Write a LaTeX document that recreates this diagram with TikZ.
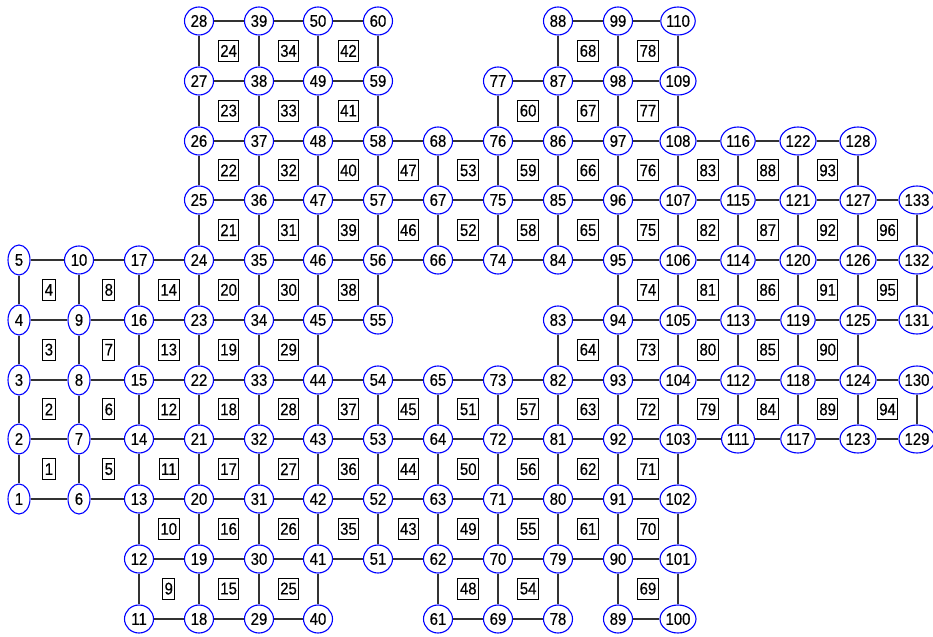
\documentclass[tikz,border=0pt]{standalone}
\usepackage{fontspec}
\setmainfont{Liberation Sans}[FakeStretch=0.88,FakeBold=0.4]
\usetikzlibrary{shapes.geometric}
\begin{document}
\begin{tikzpicture}[x=1bp,y=-1bp,
  every node/.style={font=\fontsize{17}{19}\selectfont},
  nd/.style={ellipse,draw=blue,fill=white,line width=1.1bp,inner xsep=0.3pt,inner ysep=1pt,minimum width=29bp,minimum height=28bp},
  ndone/.style={nd,minimum width=22bp,minimum height=30bp},
  elbox/.style={rectangle,draw=black,line width=1bp,inner xsep=2pt,inner ysep=0pt,minimum height=21bp},
  edge/.style={draw=black!80,line width=2bp}]
\fill[white] (0,0) rectangle (933,637);
\useasboundingbox (0,0) rectangle (933,637);
% nodes with one digit
\foreach \n/\c/\r in {1/0/8,2/0/7,3/0/6,4/0/5,5/0/4,6/1/8,7/1/7,8/1/6,9/1/5}
  \node[ndone] (n\n) at ({round(19+59.9*\c)},{round(21+59.75*\r)}) {\n};
% other nodes
\foreach \n/\c/\r in {10/1/4,11/2/10,12/2/9,13/2/8,14/2/7,15/2/6,16/2/5,17/2/4,
  18/3/10,19/3/9,20/3/8,21/3/7,22/3/6,23/3/5,24/3/4,25/3/3,26/3/2,27/3/1,28/3/0,
  29/4/10,30/4/9,31/4/8,32/4/7,33/4/6,34/4/5,35/4/4,36/4/3,37/4/2,38/4/1,39/4/0,
  40/5/10,41/5/9,42/5/8,43/5/7,44/5/6,45/5/5,46/5/4,47/5/3,48/5/2,49/5/1,50/5/0,
  51/6/9,52/6/8,53/6/7,54/6/6,55/6/5,56/6/4,57/6/3,58/6/2,59/6/1,60/6/0,
  61/7/10,62/7/9,63/7/8,64/7/7,65/7/6,66/7/4,67/7/3,68/7/2,
  69/8/10,70/8/9,71/8/8,72/8/7,73/8/6,74/8/4,75/8/3,76/8/2,77/8/1,
  78/9/10,79/9/9,80/9/8,81/9/7,82/9/6,83/9/5,84/9/4,85/9/3,86/9/2,87/9/1,88/9/0,
  89/10/10,90/10/9,91/10/8,92/10/7,93/10/6,94/10/5,95/10/4,96/10/3,97/10/2,98/10/1,99/10/0,
  100/11/10,101/11/9,102/11/8,103/11/7,104/11/6,105/11/5,106/11/4,107/11/3,108/11/2,109/11/1,110/11/0,
  111/12/7,112/12/6,113/12/5,114/12/4,115/12/3,116/12/2,
  117/13/7,118/13/6,119/13/5,120/13/4,121/13/3,122/13/2,
  123/14/7,124/14/6,125/14/5,126/14/4,127/14/3,128/14/2,
  129/15/7,130/15/6,131/15/5,132/15/4,133/15/3}
  \node[nd] (n\n) at ({round(19+59.9*\c)},{round(21+59.75*\r)}) {\n};
% elements
\foreach \n/\c/\r in {1/0/7,2/0/6,3/0/5,4/0/4,5/1/7,6/1/6,7/1/5,8/1/4,
  9/2/9,10/2/8,11/2/7,12/2/6,13/2/5,14/2/4,
  15/3/9,16/3/8,17/3/7,18/3/6,19/3/5,20/3/4,21/3/3,22/3/2,23/3/1,24/3/0,
  25/4/9,26/4/8,27/4/7,28/4/6,29/4/5,30/4/4,31/4/3,32/4/2,33/4/1,34/4/0,
  35/5/8,36/5/7,37/5/6,38/5/4,39/5/3,40/5/2,41/5/1,42/5/0,
  43/6/8,44/6/7,45/6/6,46/6/3,47/6/2,
  48/7/9,49/7/8,50/7/7,51/7/6,52/7/3,53/7/2,
  54/8/9,55/8/8,56/8/7,57/8/6,58/8/3,59/8/2,60/8/1,
  61/9/8,62/9/7,63/9/6,64/9/5,65/9/3,66/9/2,67/9/1,68/9/0,
  69/10/9,70/10/8,71/10/7,72/10/6,73/10/5,74/10/4,75/10/3,76/10/2,77/10/1,78/10/0,
  79/11/6,80/11/5,81/11/4,82/11/3,83/11/2,
  84/12/6,85/12/5,86/12/4,87/12/3,88/12/2,
  89/13/6,90/13/5,91/13/4,92/13/3,93/13/2,
  94/14/6,95/14/4,96/14/3}
  \node[elbox] (e\n) at ({19+59.9*(\c+0.5)},{21+59.75*(\r+0.5)}) {\n};
% horizontal connectors
\foreach \a/\b in {28/39,39/50,50/60,88/99,99/110,
  27/38,38/49,49/59,77/87,87/98,98/109,
  26/37,37/48,48/58,58/68,68/76,76/86,86/97,97/108,108/116,116/122,122/128,
  25/36,36/47,47/57,57/67,67/75,75/85,85/96,96/107,107/115,115/121,121/127,127/133,
  5/10,10/17,17/24,24/35,35/46,46/56,56/66,66/74,74/84,84/95,95/106,106/114,114/120,120/126,126/132,
  4/9,9/16,16/23,23/34,34/45,45/55,83/94,94/105,105/113,113/119,119/125,125/131,
  3/8,8/15,15/22,22/33,33/44,44/54,54/65,65/73,73/82,82/93,93/104,104/112,112/118,118/124,124/130,
  2/7,7/14,14/21,21/32,32/43,43/53,53/64,64/72,72/81,81/92,92/103,103/111,111/117,117/123,123/129,
  1/6,6/13,13/20,20/31,31/42,42/52,52/63,63/71,71/80,80/91,91/102,
  12/19,19/30,30/41,41/51,51/62,62/70,70/79,79/90,90/101,
  11/18,18/29,29/40,61/69,69/78,89/100}
  \draw[edge] (n\a) -- (n\b);
% vertical connectors
\foreach \a/\b in {5/4,4/3,3/2,2/1,
  10/9,9/8,8/7,7/6,
  17/16,16/15,15/14,14/13,13/12,12/11,
  28/27,27/26,26/25,25/24,24/23,23/22,22/21,21/20,20/19,19/18,
  39/38,38/37,37/36,36/35,35/34,34/33,33/32,32/31,31/30,30/29,
  50/49,49/48,48/47,47/46,46/45,45/44,44/43,43/42,42/41,41/40,
  60/59,59/58,58/57,57/56,56/55,54/53,53/52,52/51,
  68/67,67/66,65/64,64/63,63/62,62/61,
  77/76,76/75,75/74,73/72,72/71,71/70,70/69,
  88/87,87/86,86/85,85/84,83/82,82/81,81/80,80/79,79/78,
  99/98,98/97,97/96,96/95,95/94,94/93,93/92,92/91,91/90,90/89,
  110/109,109/108,108/107,107/106,106/105,105/104,104/103,103/102,102/101,101/100,
  116/115,115/114,114/113,113/112,112/111,
  122/121,121/120,120/119,119/118,118/117,
  128/127,127/126,126/125,125/124,124/123,
  133/132,132/131,130/129}
  \draw[edge] (n\a) -- (n\b);
\end{tikzpicture}
\end{document}
